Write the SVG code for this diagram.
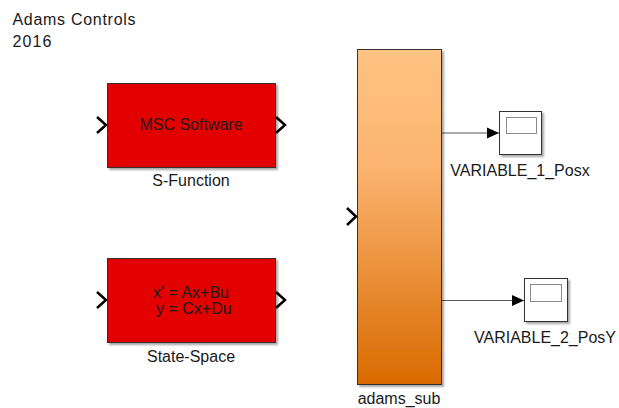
<svg xmlns="http://www.w3.org/2000/svg" width="619" height="408" viewBox="0 0 619 408">
  <style>
    text { font-family: "Liberation Sans", Arial, sans-serif; font-size: 16px; fill: #1a1a1a; }
    .block { stroke: #333333; stroke-width: 1; filter: url(#shadow); }
    .red { fill: #E30000; }
    .port { fill: none; stroke: #000000; stroke-width: 2.5; stroke-linejoin: miter; }
    .wire { fill: none; stroke: #555555; stroke-width: 1; marker-end: url(#arrow); }
    .scope { fill: #ffffff; stroke: #333333; stroke-width: 1; filter: url(#shadow); }
    .screen { fill: #ffffff; stroke: #8a8a8a; stroke-width: 1; }
    .mid { text-anchor: middle; }
  </style>
  <defs>
    <filter id="shadow" x="-10%" y="-10%" width="130%" height="130%">
      <feDropShadow dx="2" dy="2" stdDeviation="1" flood-color="#000000" flood-opacity="0.35"/>
    </filter>
    <linearGradient id="subFill" x1="0" y1="0" x2="0" y2="1">
      <stop offset="0" stop-color="#FFC383"/>
      <stop offset="0.35" stop-color="#FBB470"/>
      <stop offset="1" stop-color="#D96A00"/>
    </linearGradient>
    <marker id="arrow" viewBox="0 0 12 12" refX="12" refY="6" markerWidth="12" markerHeight="12" markerUnits="userSpaceOnUse" orient="auto">
      <path d="M0,0.5 L12,6 L0,11.5 Z" fill="#000000"/>
    </marker>
  </defs>

  <rect width="619" height="408" fill="#ffffff"/>

  <!-- annotation -->
  <g id="title">
    <text x="12.5" y="25" textLength="123" lengthAdjust="spacing">Adams Controls</text>
    <text x="12.5" y="46.5" textLength="39" lengthAdjust="spacing">2016</text>
  </g>

  <!-- connectors -->
  <g id="connectors">
    <path class="wire" d="M441.5,133 H499"/>
    <path class="wire" d="M441.5,300.5 H524"/>
  </g>

  <!-- S-Function block -->
  <g id="s-function">
    <rect class="block red" x="107.5" y="83.5" width="168" height="84"/>
    <polyline class="port" points="97,117 106,125 97,133"/>
    <polyline class="port" points="276,117 285,125 276,133"/>
    <text class="mid" x="191" y="130">MSC Software</text>
    <text class="mid" x="191" y="186">S-Function</text>
  </g>

  <!-- State-Space block -->
  <g id="state-space">
    <rect class="block red" x="107.5" y="258.5" width="168" height="84"/>
    <polyline class="port" points="97,292 106,300 97,308"/>
    <polyline class="port" points="276,292 285,300 276,308"/>
    <text x="153" y="298">x' = Ax+Bu</text>
    <text x="156" y="314">y = Cx+Du</text>
    <text class="mid" x="191" y="362">State-Space</text>
  </g>

  <!-- adams_sub subsystem -->
  <g id="adams_sub">
    <rect class="block" x="357.5" y="49.5" width="84" height="335" fill="url(#subFill)"/>
    <polyline class="port" points="347,208 356,216.5 347,225"/>
    <text class="mid" x="399" y="404">adams_sub</text>
  </g>

  <!-- scope 1 -->
  <g id="variable-1-posx">
    <rect class="scope" x="499.5" y="111.5" width="42" height="43"/>
    <rect class="screen" x="506.5" y="117.5" width="30" height="16"/>
    <text class="mid" x="520" y="176">VARIABLE_1_Posx</text>
  </g>

  <!-- scope 2 -->
  <g id="variable-2-posy">
    <rect class="scope" x="524.5" y="278.5" width="43" height="43"/>
    <rect class="screen" x="530.5" y="284.5" width="31" height="17"/>
    <text class="mid" x="545" y="343">VARIABLE_2_PosY</text>
  </g>
</svg>
